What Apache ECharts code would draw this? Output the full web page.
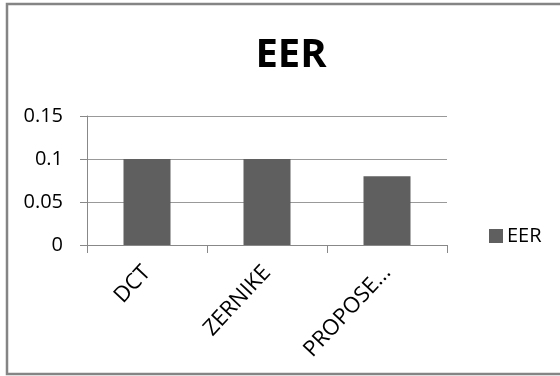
<!DOCTYPE html>
<html>
<head>
<meta charset="utf-8">
<style>
  html, body { margin: 0; padding: 0; background: #fff; }
  #chart { width: 560px; height: 376px; }
</style>
<script src="https://cdn.jsdelivr.net/npm/echarts@6/dist/echarts.min.js"></script>
</head>
<body>
<div id="chart"></div>
<script>
// Equal error rate per method
const categories = ['DCT', 'ZERNIKE', 'PROPOSE...'];
const eerValues = [0.1, 0.1, 0.08];
const yTicks = [0, 0.05, 0.1, 0.15];

const chart = echarts.init(document.getElementById('chart'), null, { renderer: 'canvas' });

const font = '"Open Sans", "Noto Sans", sans-serif';

chart.setOption({
  animation: false,
  backgroundColor: '#ffffff',
  title: {
    text: 'EER',
    left: 286,
    top: 31,
    textAlign: 'center',
    textStyle: { fontFamily: font, fontWeight: 'bold', fontSize: 40, color: '#000' }
  },
  legend: {
    data: ['EER'],
    left: 484,
    top: 221,
    itemWidth: 14,
    itemHeight: 14,
    itemGap: 6,
    icon: 'rect',
    textStyle: { fontFamily: font, fontSize: 20, color: '#000', padding: [0, 0, 0, -1] }
  },
  grid: { left: 87, right: 113, top: 116, bottom: 131, containLabel: false },
  xAxis: {
    type: 'category',
    data: categories,
    boundaryGap: true,
    axisLine: { lineStyle: { color: '#888', width: 1 } },
    axisTick: { show: true, length: 8, lineStyle: { color: '#888' } },
    axisLabel: {
      rotate: 47,
      margin: 24,
      fontFamily: font,
      fontSize: 22,
      color: '#000'
    }
  },
  yAxis: {
    type: 'value',
    min: yTicks[0],
    max: yTicks[yTicks.length - 1],
    interval: yTicks[1] - yTicks[0],
    axisLine: { show: true, lineStyle: { color: '#888', width: 1 } },
    axisTick: { show: true, length: 7, lineStyle: { color: '#888' } },
    splitLine: { lineStyle: { color: '#999', width: 1 } },
    axisLabel: {
      margin: 24,
      fontFamily: font,
      fontSize: 20,
      color: '#000',
      formatter: v => String(Math.round(v * 100) / 100)
    }
  },
  series: [{
    name: 'EER',
    type: 'bar',
    data: eerValues,
    barWidth: 47,
    itemStyle: { color: '#5f5f5f' }
  }],
  graphic: [{
    type: 'rect',
    shape: { x: 7, y: 4, width: 600, height: 370 },
    style: { fill: 'none', stroke: '#858585', lineWidth: 2.5 },
    silent: true
  }]
});
</script>
</body>
</html>
